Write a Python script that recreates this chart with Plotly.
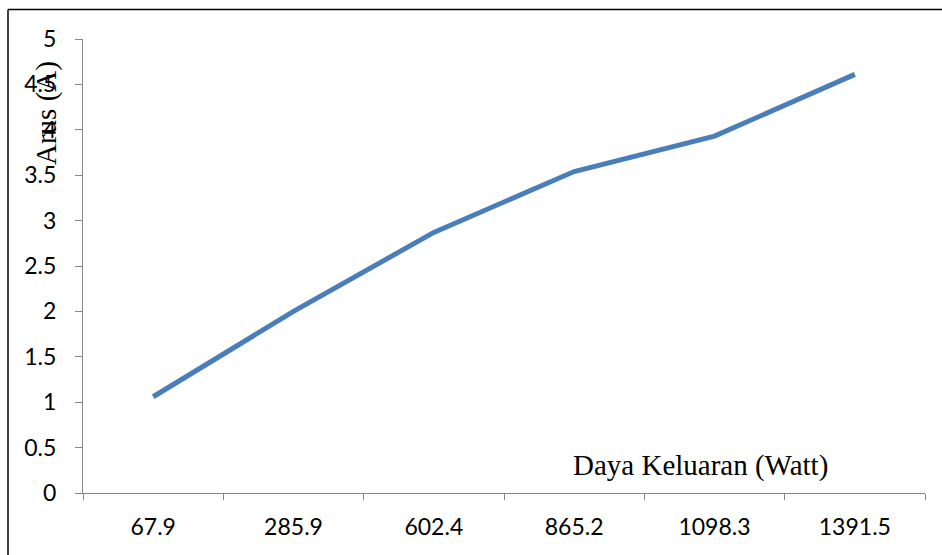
import plotly.graph_objects as go

# Output power categories (W) and measured current (A)
daya_keluaran = ["67.9", "285.9", "602.4", "865.2", "1098.3", "1391.5"]
arus = [1.06, 2.00, 2.87, 3.54, 3.93, 4.61]
y_ticks = [0, 0.5, 1, 1.5, 2, 2.5, 3, 3.5, 4, 4.5, 5]
y_tick_text = ["0", "0.5", "1", "1.5", "2", "2.5", "3", "3.5", "4", "4.5", "5"]

W, H = 942, 555
L, R, T, B = 83, 17, 39, 62
pw, ph = W - L - R, H - T - B


def px_x(px):
    return (px - L) / pw


def px_y(py):
    return (H - B - py) / ph


fig = go.Figure()
fig.add_trace(go.Scatter(
    x=daya_keluaran, y=arus, mode="lines",
    line=dict(color="#4a7ebb", width=5),
    hoverinfo="x+y", showlegend=False,
))

axis_color = "#868686"
tick_font = dict(family="Lato, Carlito, sans-serif", size=23, color="#000000")

fig.update_xaxes(
    type="category", range=[-0.5, 5.5],
    tickson="boundaries", ticks="outside", ticklen=6, tickcolor=axis_color,
    showline=True, linecolor=axis_color, linewidth=1.3,
    showgrid=False, zeroline=False, tickfont=tick_font,
    ticklabelstandoff=13,
)
fig.update_yaxes(
    range=[0, 5], tickvals=y_ticks, ticktext=y_tick_text,
    ticks="outside", ticklen=7, tickcolor=axis_color,
    showline=True, linecolor=axis_color, linewidth=1.3,
    showgrid=False, zeroline=False, tickfont=tick_font,
    ticklabelstandoff=14,
)

serif = dict(family="Liberation Serif, Times New Roman, serif", size=29, color="#000000")
fig.add_annotation(
    text="Daya Keluaran (Watt)", xref="paper", yref="paper",
    x=px_x(700), y=px_y(465), xanchor="center", yanchor="middle",
    showarrow=False, font=serif,
)
fig.add_annotation(
    text="Arus (A)", xref="paper", yref="paper", textangle=-90,
    x=px_x(46), y=px_y(113), xanchor="center", yanchor="middle",
    showarrow=False, font=serif,
)

# Outer frame (left and top edges)
fig.add_shape(type="line", xref="paper", yref="paper",
              x0=px_x(8), y0=px_y(600), x1=px_x(8), y1=px_y(9.5),
              line=dict(color="#000000", width=1.5))
fig.add_shape(type="line", xref="paper", yref="paper",
              x0=px_x(8), y0=px_y(9.5), x1=px_x(1000), y1=px_y(9.5),
              line=dict(color="#000000", width=1.5))

fig.update_layout(
    width=W, height=H,
    margin=dict(l=L, r=R, t=T, b=B),
    plot_bgcolor="#ffffff", paper_bgcolor="#ffffff",
)

fig.write_html("out.html")
